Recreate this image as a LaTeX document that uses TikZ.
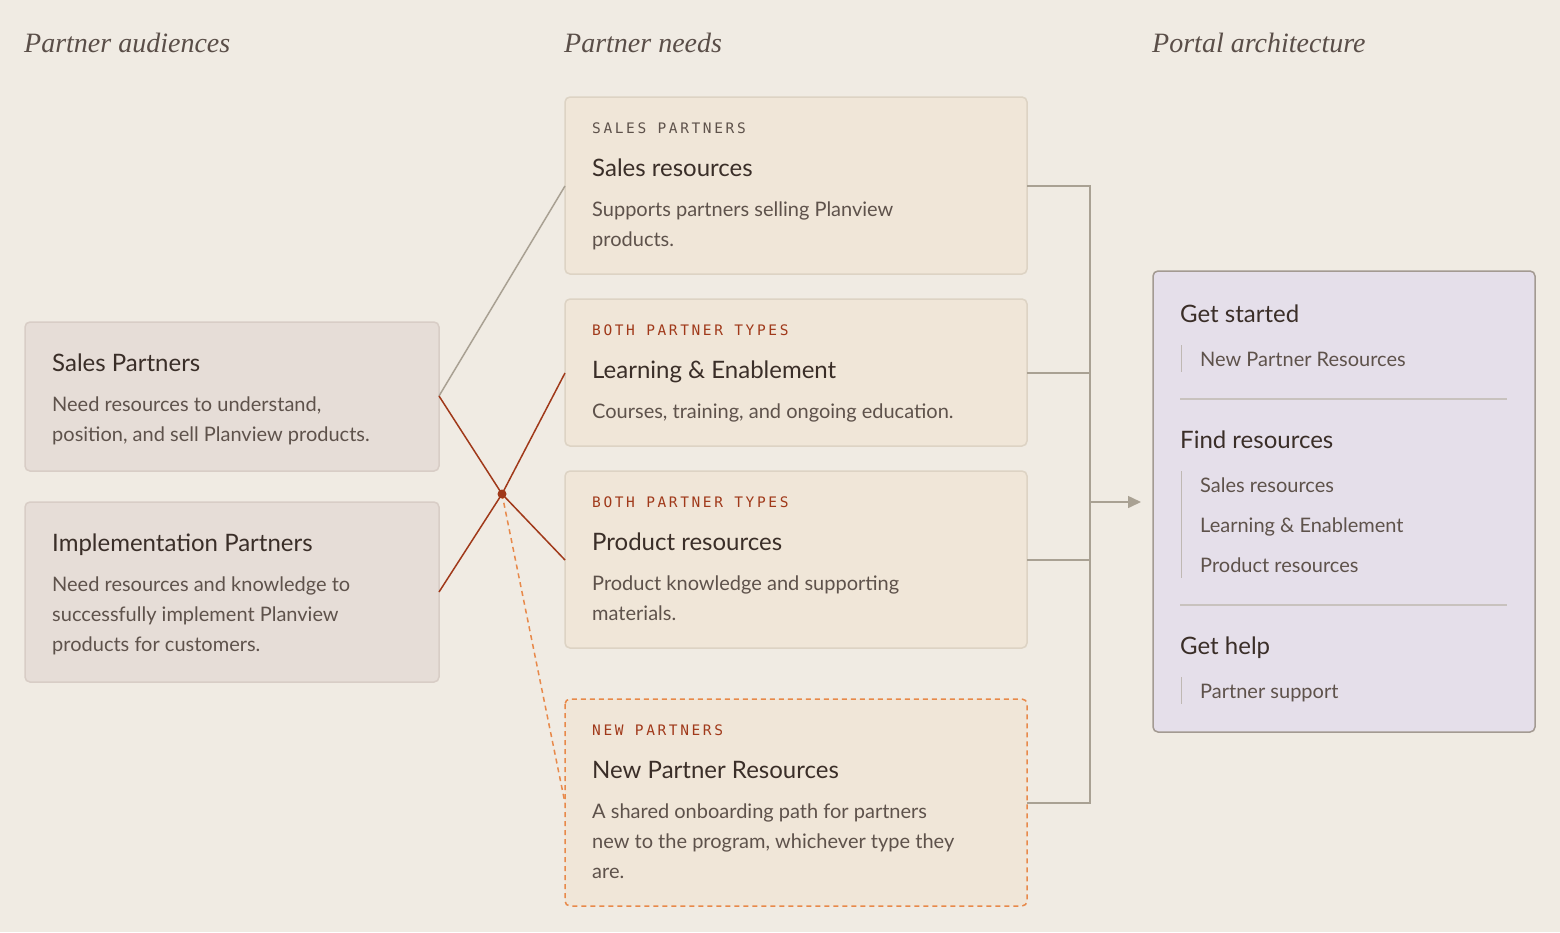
\documentclass[tikz,border=0pt]{standalone}
\usepackage{fontspec}
\setmainfont{Lato}
\newfontfamily\headf{Liberation Serif}
\newfontfamily\labf[LetterSpace=18]{DejaVu Sans Mono}
\usetikzlibrary{arrows.meta}
\definecolor{bg}{HTML}{F0EBE3}
\definecolor{midfill}{HTML}{F0E6D8}
\definecolor{midline}{HTML}{DDD3C4}
\definecolor{leftfill}{HTML}{E6DDD7}
\definecolor{leftline}{HTML}{D8CDC6}
\definecolor{rfill}{HTML}{E5DFEA}
\definecolor{rline}{HTML}{A39A92}
\definecolor{red}{HTML}{A0391A}
\definecolor{orng}{HTML}{E8894A}
\definecolor{gline}{HTML}{A9A193}
\definecolor{dark}{HTML}{3A2E28}
\definecolor{body}{HTML}{5E524B}
\definecolor{head}{HTML}{5A4E48}
\tikzset{
 box/.style={draw=midline,fill=midfill,line width=1.5pt,rounded corners=5pt},
 lbox/.style={draw=leftline,fill=leftfill,line width=1.5pt,rounded corners=5pt},
 hd/.style={anchor=base west,inner sep=0,font=\headf\itshape\fontsize{28}{34}\selectfont,text=head},
 ttl/.style={anchor=base west,inner sep=0,font=\fontsize{24}{30}\selectfont,text=dark},
 txt/.style={anchor=base west,inner sep=0,font=\fontsize{20}{30}\selectfont,text=body},
 lab/.style={anchor=base west,inner sep=0,font=\labf\fontsize{14.5}{18}\selectfont},
 bar/.style={draw=rline!70,line width=1pt},
 conn/.style={line width=1.5pt},
}
\begin{document}
\begin{tikzpicture}[x=1pt,y=-1pt]
\fill[bg] (0,0) rectangle (1560,932);
\node[hd] at (24,52) {Partner audiences};
\node[hd] at (564,52) {Partner needs};
\node[hd] at (1152,52) {Portal architecture};
% left boxes
\draw[lbox] (25,322) rectangle (439,471);
\coordinate (spE) at (439,396);
\node[ttl] (spt) at (52,371) {Sales Partners};
\node[txt] (spb) at (52,411) {Need resources to understand,};
\node[txt] (spb2) at (52,441) {position, and sell Planview products.};
\draw[lbox] (25,502) rectangle (439,682);
\coordinate (ipE) at (439,592);
\node[ttl] (ipt) at (52,551) {Implementation Partners};
\node[txt] at (52,591) {Need resources and knowledge to};
\node[txt] at (52,621) {successfully implement Planview};
\node[txt] at (52,651) {products for customers.};
% middle boxes
\draw[box] (565,97) rectangle (1027,274);
\coordinate (m1W) at (565,186); \coordinate (m1E) at (1027,186);
\node[lab,text=body] at (592,133) {SALES PARTNERS};
\node[ttl] at (592,176) {Sales resources};
\node[txt] at (592,216) {Supports partners selling Planview};
\node[txt] at (592,246) {products.};
\draw[box] (565,299) rectangle (1027,446);
\coordinate (m2W) at (565,373); \coordinate (m2E) at (1027,373);
\node[lab,text=red] at (592,335) {BOTH PARTNER TYPES};
\node[ttl] at (592,378) {Learning \& Enablement};
\node[txt] at (592,418) {Courses, training, and ongoing education.};
\draw[box] (565,471) rectangle (1027,648);
\coordinate (m3W) at (565,560); \coordinate (m3E) at (1027,560);
\node[lab,text=red] at (592,507) {BOTH PARTNER TYPES};
\node[ttl] at (592,550) {Product resources};
\node[txt] at (592,590) {Product knowledge and supporting};
\node[txt] at (592,620) {materials.};
\draw[box,draw=orng,dash pattern=on 5pt off 4pt] (565,699) rectangle (1027,906);
\coordinate (m4W) at (565,803); \coordinate (m4E) at (1027,803);
\node[lab,text=red] at (592,735) {NEW PARTNERS};
\node[ttl] at (592,778) {New Partner Resources};
\node[txt] at (592,818) {A shared onboarding path for partners};
\node[txt] at (592,848) {new to the program, whichever type they};
\node[txt] at (592,878) {are.};
% right box
\draw[box,draw=rline,fill=rfill] (1153,271) rectangle (1535,732);
\coordinate (rW) at (1153,502);
\node[ttl] at (1180,322) {Get started};
\draw[bar] (1181,345) -- (1181,372);
\node[txt] at (1200,366) {New Partner Resources};
\draw[bar,draw=rline!60,line width=1.5pt] (1180,399) -- (1507,399);
\node[ttl] at (1180,448) {Find resources};
\draw[bar] (1181,471) -- (1181,578);
\node[txt] at (1200,492) {Sales resources};
\node[txt] at (1200,532) {Learning \& Enablement};
\node[txt] at (1200,572) {Product resources};
\draw[bar,draw=rline!60,line width=1.5pt] (1180,605) -- (1507,605);
\node[ttl] at (1180,654) {Get help};
\draw[bar] (1181,677) -- (1181,704);
\node[txt] at (1200,698) {Partner support};
% connectors left
\coordinate (hub) at (502,494);
\draw[conn,gline] (spE) -- (m1W);
\draw[conn,red] (spE) -- (hub) -- (m3W);
\draw[conn,red] (ipE) -- (hub) -- (m2W);
\draw[conn,orng,dash pattern=on 5pt off 4pt] (hub) -- (m4W);
\fill[red] (hub) circle (4.5);
% connectors right
\coordinate (bus) at (1090,502);
\draw[conn,gline] (m1E) -- (1090,186) -- (1090,803) -- (m4E);
\draw[conn,gline] (m2E) -- (1090,373);
\draw[conn,gline] (m3E) -- (1090,560);
\draw[conn,gline,-{Triangle[length=13pt,width=12pt]}] (bus) -- ([xshift=-12pt]rW);
\end{tikzpicture}
\end{document}
